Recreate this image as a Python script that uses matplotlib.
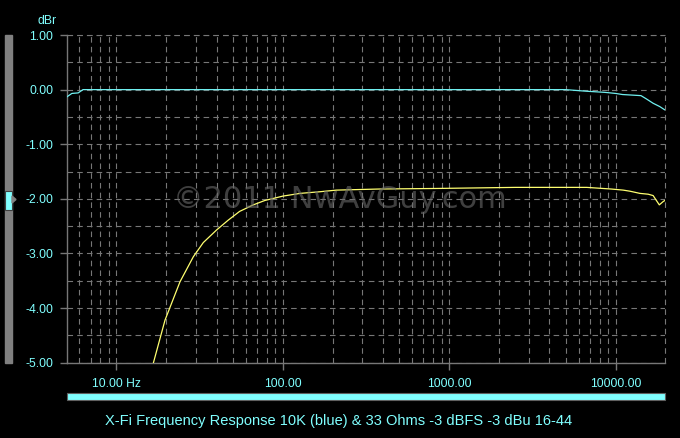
import numpy as np
import matplotlib
matplotlib.use("Agg")
import matplotlib.pyplot as plt
from matplotlib.patches import Rectangle, Polygon
from matplotlib.ticker import FixedLocator, NullFormatter

# frequency response data (Hz, dBr)
blue_freq = [5.0, 5.4, 5.9, 6.3, 7, 10, 100, 1000, 5000, 6700, 8600, 10000,
             11000, 14200, 15300, 16800, 18400, 19500, 20000]
blue_db = [-0.14, -0.07, -0.06, 0.0, 0.0, 0.0, 0.0, 0.0, 0.0, -0.03, -0.05,
           -0.07, -0.09, -0.11, -0.17, -0.25, -0.31, -0.36, -0.38]

yellow_freq = [15, 16.7, 19.6, 24.1, 29, 33.3, 40, 47, 55, 66.5, 78, 100, 127,
               167, 210, 380, 830, 2500, 6700, 9400, 11100, 12200, 14000,
               15700, 16800, 18300, 19300, 20000]
yellow_db = [-5.6, -5.0, -4.22, -3.52, -3.06, -2.80, -2.57, -2.39, -2.23,
             -2.11, -2.03, -1.95, -1.90, -1.87, -1.84, -1.82, -1.81, -1.79,
             -1.79, -1.82, -1.84, -1.86, -1.90, -1.915, -1.94, -2.11, -2.05,
             -2.02]

x_ticks = [10, 100, 1000, 10000]
x_labels = ["10.00 Hz", "100.00", "1000.00", "10000.00"]
y_ticks = [1, 0, -1, -2, -3, -4, -5]
y_labels = ["1.00", "0.00", "-1.00", "-2.00", "-3.00", "-4.00", "-5.00"]
title = "X-Fi Frequency Response 10K (blue) & 33 Ohms -3 dBFS -3 dBu 16-44"

cyan = "#80ffff"
grid_c = "#777777"
plt.rcParams["lines.scale_dashes"] = False

fig = plt.figure(figsize=(6.8, 4.38), dpi=100, facecolor="black")
ax = fig.add_axes([67/680, 1-362.7/438, 598/680, 327.7/438])
ax.set_facecolor("black")

ax.plot(blue_freq, blue_db, color="#70f0f0", lw=0.9, zorder=3)
ax.plot(yellow_freq, yellow_db, color="#ffff70", lw=0.9, zorder=3)

ax.set_xscale("log")
ax.set_xlim(5.05, 19800)
ax.set_ylim(-5, 1)

ax.xaxis.set_major_locator(FixedLocator(x_ticks))
ax.set_xticklabels(x_labels)
minor = [m * 10**d for d in range(0, 5) for m in range(2, 10)]
minor = [v for v in minor if 5 < v <= 20000]
ax.xaxis.set_minor_locator(FixedLocator(minor))
ax.xaxis.set_minor_formatter(NullFormatter())
ax.set_yticks(y_ticks)
ax.set_yticklabels(y_labels)
ax.set_yticks(np.arange(-4.5, 1.0, 1.0), minor=True)

ax.grid(True, which="both", color=grid_c, lw=0.8, ls=(0, (4, 3)))
# top and right dashed border lines
ax.axhline(1.0, color=grid_c, lw=0.8, ls=(0, (4, 3)), clip_on=False)
ax.axvline(19800, color=grid_c, lw=0.8, ls=(0, (4, 3)), clip_on=False)

for s in ["top", "right"]:
    ax.spines[s].set_visible(False)
for s in ["left", "bottom"]:
    ax.spines[s].set_color(grid_c)
    ax.spines[s].set_linewidth(1.0)

ax.tick_params(axis="x", which="major", colors=grid_c, length=5, width=1,
               labelcolor=cyan, labelsize=8.7, pad=6)
ax.tick_params(axis="x", which="minor", length=0)
ax.tick_params(axis="y", which="major", colors=grid_c, length=5, width=1,
               labelcolor=cyan, labelsize=8.7, pad=5)
ax.tick_params(axis="y", which="minor", length=0)
for lab in ax.get_xticklabels() + ax.get_yticklabels():
    lab.set_family("Liberation Sans")

fig.text(47/680, 1-20.5/438, "dBr", color=cyan, fontsize=8.7,
         family="Liberation Sans", ha="center", va="center")

# left slider
fig.patches.append(Rectangle((5/680, 1-363/438), 7/680, 328/438,
                             transform=fig.transFigure, color="#808080"))
fig.patches.append(Rectangle((5/680, 1-210/438), 7/680, 19/438,
                             transform=fig.transFigure, facecolor=cyan,
                             edgecolor="#404040", lw=0.8))
fig.patches.append(Polygon([(12/680, 1-196/438), (16/680, 1-199.5/438),
                            (12/680, 1-203/438)], closed=True,
                           transform=fig.transFigure, color="#808080"))

# bottom bar
fig.patches.append(Rectangle((67/680, 1-400/438), 598/680, 7/438,
                             transform=fig.transFigure, facecolor=cyan,
                             edgecolor="#606060", lw=0.8))

fig.text(339/680, 1-421/438, title, color=cyan, fontsize=10.5,
         family="Liberation Sans", ha="center", va="center")

fig.text(340/680, 1-200/438, "\u00a92011 NwAvGuy.com", color="#6a6a6a",
         alpha=0.6, fontsize=22, family="DejaVu Sans", ha="center",
         va="center", zorder=5)

fig.savefig("out.png", dpi=100, facecolor="black")
